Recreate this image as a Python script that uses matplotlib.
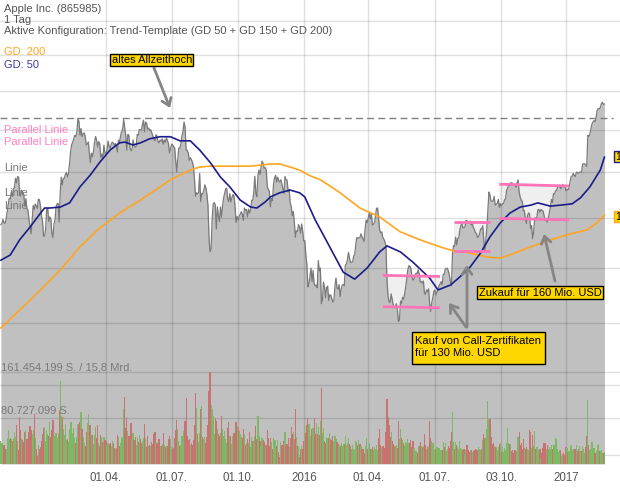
import numpy as np
import matplotlib
matplotlib.use("Agg")
import matplotlib.pyplot as plt
from matplotlib.patches import Rectangle

plt.rcParams['font.family'] = ['Liberation Sans', 'DejaVu Sans']

# ---------------- data (daily closes, USD; volumes in millions) ----------------
close = [
    108.60, 108.86, 109.70, 109.01, 108.83, 109.70, 111.25, 112.82, 114.18, 113.99, 115.47, 114.67, 116.31, 116.47, 118.63, 117.60, 119.00, 118.93,
    115.07, 114.63, 115.93, 115.49, 115.00, 112.40, 114.12, 111.95, 111.62, 109.73, 108.23, 106.75, 109.41, 112.65, 111.78, 112.94, 112.54, 112.01, 113.99, 113.91, 112.52, 110.38,
    109.33, 106.25, 106.26, 107.75, 111.89, 112.01, 109.25, 110.22, 109.80, 106.82, 105.99, 108.72, 109.55, 112.40, 112.98, 113.10, 109.14, 115.31, 118.90, 117.16,
    118.63, 118.65, 119.56, 119.94, 118.93, 119.72, 122.02, 124.88, 126.46, 127.08, 127.83, 128.72, 128.45, 129.50, 133.00, 132.17, 128.79, 130.42, 128.46,
    129.09, 129.36, 128.54, 126.41, 126.60, 127.14, 124.51, 122.24, 124.45, 123.59, 124.95, 127.04, 128.47, 127.50, 125.90, 127.21, 126.69, 123.38, 124.24, 123.25, 126.37, 124.43,
    124.25, 125.32, 127.35, 126.01, 125.60, 126.56, 127.10, 126.85, 126.30, 126.78, 126.17, 124.75, 127.60, 126.91, 128.62, 129.67, 130.28, 132.65, 130.56, 128.64, 125.15,
    128.95, 128.70, 125.80, 125.01, 125.26, 127.62, 126.32, 125.87, 126.01, 128.95, 128.77, 130.19, 130.07, 130.06, 131.39, 132.54, 129.62, 132.04, 131.78, 130.28,
    130.54, 129.96, 130.12, 129.36, 128.65, 127.80, 127.42, 128.88, 128.59, 127.17, 126.92, 127.60, 127.30, 127.88, 126.60, 127.61, 127.03, 128.11, 127.50, 126.75, 124.53, 125.43,
    126.60, 126.44, 126.00, 125.69, 122.57, 120.07, 123.28, 125.66, 125.61, 126.82, 128.51, 129.62, 132.07, 130.75, 125.22, 125.16, 124.50, 122.77, 123.38, 122.99, 122.37, 121.30,
    118.44, 114.64, 115.40, 115.13, 115.52, 119.72, 113.49, 115.24, 115.15, 115.96, 117.16, 116.50, 115.01, 112.65, 105.76, 103.12, 103.74, 109.69, 112.92, 113.29, 112.76,
    107.72, 112.34, 110.37, 109.27, 112.31, 110.15, 112.57, 114.21, 115.31, 116.28, 116.41, 113.92, 113.45, 115.21, 113.40, 114.32, 115.00, 114.71, 112.44, 109.06, 110.30,
    109.58, 110.38, 110.78, 111.31, 110.78, 109.50, 112.12, 111.60, 111.79, 110.21, 111.86, 111.04, 111.73, 113.77, 113.76, 115.50, 119.08, 115.28, 114.55, 119.27, 120.53, 119.50,
    121.18, 122.57, 122.00, 120.92, 121.06, 120.57, 116.77, 116.11, 115.72, 112.34, 114.18, 113.69, 117.29, 118.78, 119.30, 117.75, 118.88, 118.03, 117.81, 118.30,
    117.34, 116.28, 115.20, 119.03, 118.28, 118.23, 115.62, 116.17, 113.18, 112.48, 110.49, 111.34, 108.98, 106.03, 107.33, 107.23, 108.61, 108.03, 106.82, 108.74, 107.32, 105.26,
    105.35, 102.71, 100.70, 96.45, 96.96, 98.53, 99.96, 97.39, 99.52, 97.13, 96.66, 96.79, 96.30, 101.42, 99.44, 99.99, 93.42, 94.09, 97.34,
    96.43, 94.48, 96.35, 96.60, 94.02, 95.01, 94.99, 94.27, 93.70, 93.99, 96.64, 98.12, 96.26, 96.04, 96.88, 94.69, 96.10, 96.76, 96.91, 96.69,
    100.53, 100.75, 101.50, 103.01, 101.87, 101.03, 101.12, 101.17, 102.26, 102.52, 104.58, 105.97, 105.80, 105.92, 105.91, 106.72, 106.13, 105.67, 105.19, 107.68, 109.56, 108.99,
    109.99, 111.12, 109.81, 110.96, 108.54, 108.66, 109.02, 110.44, 112.04, 112.10, 109.85, 107.48, 106.91, 107.13, 105.97, 105.68, 105.08, 104.35, 97.82, 94.83, 93.74,
    93.64, 95.18, 94.19, 93.24, 92.72, 92.79, 93.42, 92.51, 90.34, 90.52, 93.88, 93.49, 94.56, 94.20, 95.22, 96.43, 97.90, 99.62, 100.41, 100.35, 99.86,
    98.46, 97.72, 97.92, 98.63, 99.03, 98.94, 99.65, 98.83, 97.34, 97.46, 97.14, 97.55, 95.33, 95.10, 95.91, 95.55, 96.10, 93.40, 92.04, 93.59, 94.40, 95.60,
    95.89, 94.99, 95.53, 95.94, 96.68, 96.98, 97.42, 96.87, 98.79, 98.78, 99.83, 99.87, 99.96, 99.43, 98.66, 97.34, 96.67, 102.95, 104.34, 104.21,
    106.05, 104.48, 105.79, 105.87, 107.48, 108.37, 108.81, 108.00, 107.93, 108.18, 109.48, 109.38, 109.22, 109.08, 109.36, 108.51, 108.85, 108.03, 107.57, 106.94, 106.82, 106.00, 106.10,
    106.73, 107.73, 107.70, 108.36, 105.52, 103.13, 105.44, 107.95, 111.77, 115.57, 114.92, 113.58, 113.57, 113.55, 114.62, 112.71, 112.88, 113.09, 113.95, 112.18, 113.05,
    112.52, 113.00, 113.05, 113.89, 114.06, 116.05, 116.30, 117.34, 116.98, 117.63, 117.55, 117.47, 117.12, 117.06, 116.60, 117.65, 118.25, 115.59, 114.48, 113.72, 113.54,
    111.49, 111.59, 109.83, 108.84, 110.41, 111.06, 110.88, 107.79, 108.43, 105.71, 107.11, 109.99, 109.95, 110.06, 111.73, 111.80, 111.23, 111.79, 111.57, 111.46, 110.52,
    109.49, 109.90, 109.11, 109.95, 111.03, 112.12, 113.95, 113.30, 115.19, 115.19, 115.82, 115.97, 116.64, 116.95, 117.06, 116.29, 116.52, 117.26, 116.76, 116.73, 115.82,
    116.15, 116.02, 116.61, 117.91, 118.99, 119.11, 119.75, 119.25, 119.04, 120.00, 119.99, 119.78, 120.00, 120.08, 119.97, 121.88, 121.94, 121.95, 121.63, 121.35,
    128.75, 128.53, 129.08, 130.29, 131.53, 132.04, 132.42, 132.12, 133.29, 135.02, 135.51, 135.35, 135.72, 136.70, 137.11, 136.53, 136.66,
]

volume_m = [
    41, 37, 34, 33, 27, 27, 46, 59, 44, 46, 44, 41, 43, 57, 47, 68, 41, 24,
    83, 59, 43, 42, 38, 57, 60, 44, 41, 56, 67, 60, 53, 59, 88, 45, 26, 14, 33, 27, 29, 41,
    53, 64, 65, 40, 59, 53, 49, 74, 48, 60, 78, 49, 48, 54, 46, 55, 95, 146, 84, 83,
    62, 51, 70, 42, 44, 38, 62, 73, 74, 54, 63, 45, 37, 48, 70, 69, 74, 91, 62,
    48, 37, 31, 56, 72, 88, 68, 68, 51, 51, 35, 51, 65, 45, 68, 37, 32, 51, 47, 39, 47, 42,
    40, 32, 37, 35, 37, 31, 40, 36, 28, 27, 28, 51, 47, 32, 37, 45, 47, 96, 118, 63, 83,
    58, 50, 49, 72, 43, 55, 42, 47, 34, 45, 38, 51, 44, 36, 40, 45, 70, 46, 30, 50,
    32, 33, 31, 38, 35, 52, 56, 39, 35, 36, 43, 31, 32, 35, 54, 34, 30, 32, 32, 44, 49, 44,
    30, 27, 28, 46, 60, 78, 61, 41, 31, 33, 50, 46, 58, 76, 115, 50, 42, 44, 33, 37, 33, 42,
    69, 124, 99, 52, 38, 54, 97, 101, 48, 43, 48, 36, 47, 68, 128, 161.45, 104, 96, 84, 53, 81,
    76, 61, 53, 49, 54, 85, 62, 49, 58, 43, 37, 64, 74, 50, 50, 35, 50, 55, 52, 73, 66,
    63, 58, 52, 48, 46, 61, 52, 33, 37, 44, 37, 56, 29, 48, 41, 41, 49, 66, 44, 85, 50, 40,
    32, 45, 42, 39, 33, 33, 59, 45, 32, 45, 38, 27, 46, 42, 42, 32, 42, 21, 13, 39,
    34, 33, 41, 57, 32, 35, 46, 29, 46, 65, 53, 56, 44, 96, 48, 32, 32, 13, 26, 31, 26, 40,
    67, 55, 68, 81, 70, 49, 49, 62, 63, 80, 53, 72, 52, 65, 51, 75, 133, 55, 64,
    40, 37, 46, 46, 46, 54, 44, 42, 50, 40, 49, 44, 39, 35, 34, 32, 36, 31, 35, 35,
    50, 33, 36, 46, 35, 31, 27, 33, 27, 25, 40, 38, 34, 42, 35, 32, 26, 26, 19, 31, 45, 26,
    25, 37, 27, 26, 30, 24, 29, 27, 33, 25, 46, 61, 33, 29, 31, 32, 28, 56, 114, 82, 68,
    48, 56, 41, 35, 32, 32, 34, 28, 76, 44, 61, 46, 42, 36, 32, 38, 37, 43, 36, 36, 42,
    29, 40, 28, 23, 22, 20, 32, 31, 38, 31, 29, 31, 53, 34, 26, 30, 32, 75, 46, 40, 36, 36,
    25, 27, 30, 25, 28, 23, 24, 25, 38, 30, 36, 23, 26, 32, 28, 40, 56, 92, 39, 27,
    38, 33, 30, 27, 40, 28, 27, 24, 27, 18, 25, 33, 25, 21, 25, 25, 21, 23, 25, 27, 24, 25, 29,
    26, 24, 26, 42, 53, 46, 45, 62, 110, 79, 79, 47, 35, 37, 31, 29, 29, 24, 29, 35, 36,
    21, 29, 21, 28, 24, 36, 64, 37, 35, 35, 23, 24, 20, 24, 23, 23, 48, 57, 34, 37, 26,
    43, 28, 26, 30, 26, 24, 60, 57, 28, 51, 32, 58, 27, 29, 29, 25, 27, 11, 20, 28, 36,
    37, 26, 34, 26, 29, 27, 34, 26, 34, 34, 46, 44, 27, 21, 24, 24, 14, 18, 20, 15, 30,
    28, 21, 22, 31, 33, 24, 27, 27, 26, 34, 23, 26, 32, 23, 23, 32, 26, 20, 30, 49,
    112, 33, 25, 26, 38, 23, 28, 20, 23, 33, 35, 22, 22, 24, 20, 20, 21,
]

# moving averages (trading-day index, USD)
ma50_idx = [0, 9, 18, 28, 38, 42, 47, 57, 66, 76, 86, 95, 105, 114, 119, 127, 134, 143, 153, 163, 172, 182,
            191, 201, 211, 220, 230, 240, 246, 254, 259, 268, 278, 287, 292, 302, 316, 329, 340, 352, 364,
            371, 384, 396, 412, 420, 432, 441, 451, 461, 470, 480, 489, 499, 509, 516, 528, 537, 549, 557,
            566, 576, 580]
ma50 = [101.5, 102.5, 105.5, 108.1, 111.0, 112.1, 112.1, 112.3, 113.2, 116.7, 119.4, 122.3, 125.2, 126.9, 127.1,
        126.4, 126.9, 127.9, 128.4, 128.4, 127.4, 127.4, 125.2, 122.3, 118.9, 116.7, 113.8, 112.3, 112.1, 113.4,
        114.5, 115.4, 116.0, 115.4, 114.5, 109.6, 104.1, 99.2, 97.9, 100.0, 103.1, 104.3, 103.1, 101.1, 98.1,
        95.9, 96.8, 98.3, 100.2, 102.9, 106.1, 109.0, 111.0, 112.3, 112.7, 113.2, 112.5, 112.7, 113.0, 114.3,
        116.7, 120.5, 123.5]
ma200_idx = [0, 18, 38, 57, 76, 95, 114, 134, 153, 163, 182, 191, 201, 220, 240, 259, 268, 278, 287, 297,
             307, 326, 345, 364, 384, 403, 422, 435, 451, 467, 480, 489, 509, 528, 547, 563, 573, 580]
ma200 = [89.2, 92.3, 95.9, 99.6, 104.1, 107.9, 111.0, 113.8, 116.7, 118.3, 120.5, 121.2, 121.4, 121.4, 121.4,
         121.9, 121.9, 121.2, 120.5, 119.2, 118.3, 115.4, 112.1, 110.2, 107.1, 105.5, 104.1, 103.3, 102.9,
         102.1, 101.9, 102.5, 104.1, 105.5, 106.7, 107.5, 109.0, 110.6]

# drawn chart tools
all_time_high = 133.1
channel_idx = [(367, 422), (435, 470), (479, 546)]
channel_upper = [(98.6, 98.4), (109.1, 109.1), (117.3, 116.9)]
channel_lower = [(92.9, 92.7), (103.3, 103.3), (109.9, 109.6)]

tick_idx = [101, 164, 228, 291.5, 353, 417, 481, 543.5]
tick_labels = ["01.04.", "01.07.", "01.10.", "2016", "01.04.", "01.07.", "03.10.", "2017"]
price_grid = [70, 80, 90, 100, 110, 120, 130, 140, 150, 160]
vol_max = 161.454199
vol_half = 80.727099

# ---------------- figure ----------------
W, H = 620, 496
fig = plt.figure(figsize=(W / 100, H / 100), dpi=100)
fig.patch.set_facecolor('white')

def fx(x):
    return x / W

def fy(y):
    return 1 - y / H

AX_BOTTOM = 464
rect = [0, fy(AX_BOTTOM), 1, AX_BOTTOM / H]
ax = fig.add_axes(rect)
ax.set_facecolor('white')
for s in ax.spines.values():
    s.set_visible(False)

x = np.arange(len(close))
xl = (-0.9 / 1.0406, (W - 0.9) / 1.0406)
ax.set_yscale('log')
ylo, yhi = 68.84, 166.6
ax.set_ylim(ylo, yhi)
ax.set_xlim(*xl)

# channel fills (light) below price area
for (i0, i1), (u0, u1), (l0, l1) in zip(channel_idx, channel_upper, channel_lower):
    ax.fill([i0, i1, i1, i0], [u0, u1, l1, l0], color='#efefef', lw=0, zorder=0.5)

# price area
ax.fill_between(x, close, ylo, color='#c0c0c0', lw=0, zorder=1)
ax.plot(x, close, color='#7a7a7a', lw=0.9, zorder=3)

# grid
ax.set_yticks(price_grid)
ax.yaxis.set_minor_locator(matplotlib.ticker.NullLocator())
ax.set_yticklabels([])
ax.set_xticks(tick_idx)
ax.set_xticklabels(tick_labels)
ax.tick_params(axis='both', length=0)
ax.tick_params(axis='x', pad=6, labelsize=8.3, labelcolor='#555555')
ax.grid(True, color='black', alpha=0.12, lw=1.0, zorder=2)
ax.set_axisbelow(False)
for gl in ax.get_xgridlines() + ax.get_ygridlines():
    gl.set_zorder(2)

# moving averages
ax.plot(ma200_idx, ma200, color='#ffa51f', lw=1.2, zorder=4)
ax.plot(ma50_idx, ma50, color='#1c1c8a', lw=1.2, zorder=4)

# all-time-high dashed line
ax.hlines(all_time_high, xl[0], 588, colors='#7f7f7f', linestyles=(0, (5, 3)), lw=1.0, zorder=4)

# channels
for (i0, i1), (u0, u1), (l0, l1) in zip(channel_idx, channel_upper, channel_lower):
    ax.plot([i0, i1], [u0, u1], color='#ff73b9', lw=2, zorder=5, solid_capstyle='butt')
    ax.plot([i0, i1], [l0, l1], color='#ff73b9', lw=2, zorder=5, solid_capstyle='butt')

# volume overlay
axv = fig.add_axes(rect)
axv.patch.set_alpha(0)
axv.set_axis_off()
axv.set_xlim(*xl)
px_per_m = (AX_BOTTOM - 372) / vol_max
axv.set_ylim(0, AX_BOTTOM / px_per_m)
chg = np.diff(np.array(close), prepend=close[0])
vcols = np.where(chg >= 0, '#7db864', '#c87272')
axv.bar(x, volume_m, width=1.15, color=vcols, lw=0, zorder=2)
for v in (vol_max, vol_half):
    axv.axhline(v, color='black', alpha=0.12, lw=1.0, zorder=1)

# ---------------- texts ----------------
tc = '#555555'
fs = 8.0
fig.text(fx(4), fy(9), 'Apple Inc. (865985)', color=tc, fontsize=fs, va='center')
fig.text(fx(4), fy(20), '1 Tag', color=tc, fontsize=fs, va='center')
fig.text(fx(4), fy(31), 'Aktive Konfiguration: Trend-Template (GD 50 + GD 150 + GD 200)',
         color=tc, fontsize=fs, va='center')
fig.text(fx(4), fy(52), 'GD: 200', color='#ffa51f', fontsize=fs, va='center')
fig.text(fx(4), fy(65), 'GD: 50', color='#3a3aa0', fontsize=fs, va='center')

fig.text(fx(4), fy(130), 'Parallel Linie', color='#ff7fbf', fontsize=fs, va='center')
fig.text(fx(4), fy(142), 'Parallel Linie', color='#ff7fbf', fontsize=fs, va='center')
fig.text(fx(4), fy(168), 'Linie', color='#777777', fontsize=fs, va='center')
fig.text(fx(4), fy(193), 'Linie', color='#777777', fontsize=fs, va='center')
fig.text(fx(4), fy(206), 'Linie', color='#777777', fontsize=fs, va='center')

fig.text(fx(1), fy(367), '161.454.199 S. / 15,8 Mrd.', color='#7a7a7a', fontsize=fs, va='center')
fig.text(fx(1), fy(411), '80.727.099 S.', color='#7a7a7a', fontsize=fs, va='center')

def box(x0, y0, x1, y1, ec='black', fc='#ffd700'):
    fig.add_artist(Rectangle((fx(x0), fy(y1)), (x1 - x0) / W, (y1 - y0) / H,
                             transform=fig.transFigure, fc=fc, ec=ec, lw=1.0, zorder=10))

def arrow(x0, y0, x1, y1):
    fig.add_artist(matplotlib.patches.FancyArrowPatch(
        (fx(x0), fy(y0)), (fx(x1), fy(y1)), transform=fig.transFigure,
        arrowstyle='->,head_length=5,head_width=3.5', color='#858585', lw=2,
        shrinkA=0, shrinkB=0, zorder=9))

box(110, 54, 193, 66)
fig.text(fx(112), fy(60), 'altes Allzeithoch', fontsize=fs, va='center', zorder=11)
arrow(154, 68, 170, 108)

box(412, 332, 545, 364)
fig.text(fx(415), fy(340.5), 'Kauf von Call-Zertifikaten', fontsize=fs, va='center', zorder=11)
fig.text(fx(415), fy(352.5), 'für 130 Mio. USD', fontsize=fs, va='center', zorder=11)
arrow(466, 327, 449, 303)
arrow(467, 327, 467, 265)

box(477, 286, 603, 299)
fig.text(fx(479), fy(292.5), 'Zukauf für 160 Mio. USD', fontsize=fs, va='center', zorder=11)
arrow(555, 281, 544, 234)

box(614, 151, 630, 162, ec='#1c1c8a')
fig.text(fx(615.5), fy(156.5), '1', fontsize=7.5, va='center', zorder=11)
box(614, 211, 630, 222, ec='#ffa51f')
fig.text(fx(615.5), fy(216.5), '1', fontsize=7.5, va='center', zorder=11)

fig.savefig('out.png', dpi=100)
